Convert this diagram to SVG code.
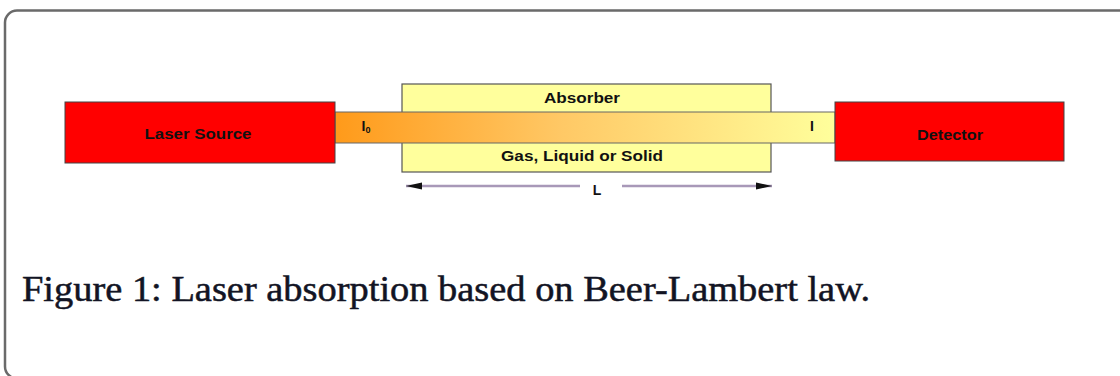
<svg xmlns="http://www.w3.org/2000/svg" width="1120" height="376" viewBox="0 0 1120 376">
<style>
.box{fill:#ff0000;stroke:#444;stroke-width:1}
.lbl{font-family:"Liberation Sans",Arial,sans-serif;font-weight:bold;font-size:14px;fill:#111;text-anchor:middle}
.cap{font-family:"Liberation Serif","Times New Roman",serif;font-size:35px;fill:#121424;stroke:#121424;stroke-width:0.5}
</style>
<defs>
<linearGradient id="beam" x1="0" y1="0" x2="1" y2="0">
<stop offset="0" stop-color="#ff9a1a"/>
<stop offset="0.45" stop-color="#ffc865"/>
<stop offset="1" stop-color="#ffff9c"/>
</linearGradient>
<marker id="ah" viewBox="0 0 16 8" refX="16" refY="4" markerWidth="16" markerHeight="8" markerUnits="userSpaceOnUse" orient="auto-start-reverse">
<path d="M0,0.5 L16,4 L0,7.5 z" fill="#111"/>
</marker>
</defs>
<rect width="1120" height="376" fill="#fff"/>
<rect x="5" y="10.5" width="1126" height="368" rx="12" fill="none" stroke="#6a6a6a" stroke-width="2.5"/>
<g id="absorber">
<rect x="402" y="84" width="369" height="88" fill="#ffff9c" stroke="#555" stroke-width="1.2"/>
<text class="lbl" x="582" y="103" textLength="76" lengthAdjust="spacingAndGlyphs">Absorber</text>
<text class="lbl" x="582" y="161" textLength="162" lengthAdjust="spacingAndGlyphs">Gas, Liquid or Solid</text>
</g>
<g id="beam-path">
<rect x="335" y="112" width="500" height="31" fill="url(#beam)" stroke="#666" stroke-width="1"/>
<text class="lbl" x="366" y="131" font-size="14" text-anchor="start">I<tspan font-size="9" dy="2">0</tspan></text>
<text class="lbl" x="812" y="131">I</text>
</g>
<g id="laser-source">
<rect class="box" x="65" y="102" width="270" height="61"/>
<text class="lbl" x="198" y="139" font-size="16" textLength="107" lengthAdjust="spacingAndGlyphs">Laser Source</text>
</g>
<g id="detector">
<rect class="box" x="835" y="102" width="229" height="59"/>
<text class="lbl" x="950" y="140" font-size="16" textLength="66" lengthAdjust="spacingAndGlyphs">Detector</text>
</g>
<g id="connectors">
<line x1="580" y1="186" x2="406" y2="186" stroke="#a898b8" stroke-width="2.5" marker-end="url(#ah)"/>
<line x1="622" y1="186" x2="772" y2="186" stroke="#a898b8" stroke-width="2.5" marker-end="url(#ah)"/>
<text class="lbl" x="597" y="195" font-weight="normal" font-size="16" fill="#444">L</text>
</g>
<text class="cap" x="22" y="301" textLength="848" lengthAdjust="spacingAndGlyphs">Figure 1: Laser absorption based on Beer-Lambert law.</text>
</svg>
